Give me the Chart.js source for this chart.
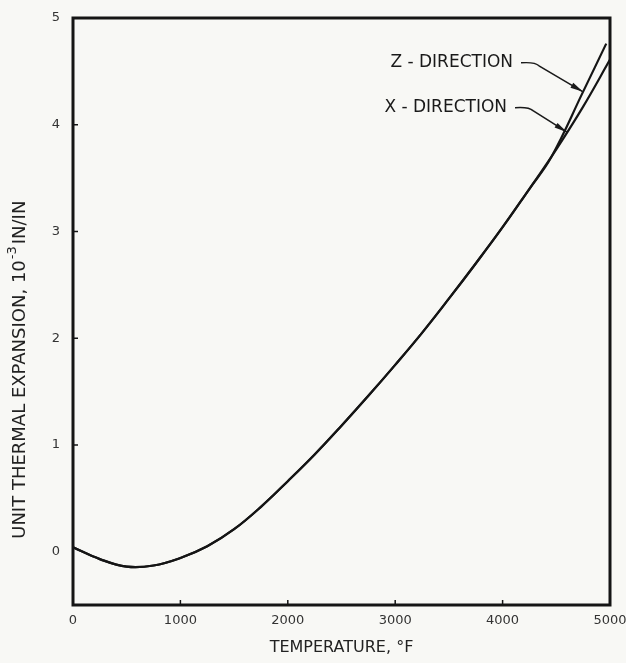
<!DOCTYPE html>
<html>
<head>
<meta charset="utf-8">
<script src="https://cdn.jsdelivr.net/npm/chart.js@4.4.1/dist/chart.umd.min.js"></script>
<style>
  html, body { margin: 0; padding: 0; background: #f8f8f5; }
  canvas { display: block; }
</style>
</head>
<body>
<canvas id="chart" width="626" height="663"></canvas>
<script>
// Unit thermal expansion (10^-3 in/in) versus temperature (°F)
const temperatures = [0, 250, 500, 750, 1000, 1250, 1500, 1750, 2000, 2250, 2500,
                      2750, 3000, 3250, 3500, 3750, 4000, 4250, 4500, 4750, 5000];
const xDirection   = [0.04, -0.07, -0.14, -0.13, -0.06, 0.05, 0.21, 0.42, 0.66, 0.91, 1.18,
                      1.46, 1.75, 2.05, 2.37, 2.70, 3.04, 3.40, 3.77, 4.17, 4.61];

const zTemperatures = [0, 250, 500, 750, 1000, 1250, 1500, 1750, 2000, 2250, 2500,
                       2750, 3000, 3250, 3500, 3750, 4000, 4250, 4450, 4750, 4965];
const zDirection    = [0.04, -0.07, -0.14, -0.13, -0.06, 0.05, 0.21, 0.42, 0.66, 0.91, 1.18,
                       1.46, 1.75, 2.05, 2.37, 2.70, 3.04, 3.40, 3.69, 4.31, 4.76];

const xTickValues = [0, 1000, 2000, 3000, 4000, 5000];
const yTickValues = [0, 1, 2, 3, 4, 5];

const xAxisTitle = 'TEMPERATURE, °F';
const yAxisTitle = { before: 'UNIT THERMAL EXPANSION, 10', sup: '-3', after: 'IN/IN' };

// Callout labels: right end of the text in data units, and the temperature where the arrow meets its curve
const callouts = [
  { text: 'Z - DIRECTION', series: 1, labelX: 4097, labelY: 4.58, tipX: 4749 },
  { text: 'X - DIRECTION', series: 0, labelX: 4041, labelY: 4.16, tipX: 4600 }
];

const FONT = "'DejaVu Sans', sans-serif";
const INK = '#151515';

function toPoints(xs, ys) { return xs.map((t, i) => ({ x: t, y: ys[i] })); }

function valueAt(points, t) {
  for (let i = 1; i < points.length; i++) {
    if (t <= points[i].x) {
      const a = points[i - 1], b = points[i];
      return a.y + (b.y - a.y) * (t - a.x) / (b.x - a.x);
    }
  }
  return points[points.length - 1].y;
}

const paperPlugin = {
  id: 'paper',
  beforeDraw(chart) {
    const { ctx, width, height } = chart;
    ctx.save();
    ctx.fillStyle = '#f8f8f5';
    ctx.fillRect(0, 0, width, height);
    ctx.restore();
  }
};

const framePlugin = {
  id: 'frame',
  afterDatasetsDraw(chart) {
    const { ctx, chartArea: a, scales: { x, y } } = chart;
    ctx.save();
    ctx.strokeStyle = INK;
    ctx.lineWidth = 3;
    ctx.strokeRect(a.left, a.top, a.right - a.left, a.bottom - a.top);

    // short inward tick marks
    ctx.lineWidth = 1.5;
    ctx.beginPath();
    xTickValues.slice(1, -1).forEach(v => {
      const px = x.getPixelForValue(v);
      ctx.moveTo(px, a.bottom); ctx.lineTo(px, a.bottom - 5);
    });
    yTickValues.slice(1, -1).forEach(v => {
      const py = y.getPixelForValue(v);
      ctx.moveTo(a.left, py); ctx.lineTo(a.left + 5, py);
    });
    ctx.stroke();

    // rotated y-axis title with superscript exponent
    const cy = a.top + 0.6 * (a.bottom - a.top);
    ctx.translate(20, cy);
    ctx.rotate(-Math.PI / 2);
    ctx.fillStyle = '#222';
    ctx.textBaseline = 'middle';
    const big = `18px ${FONT}`, small = `13px ${FONT}`;
    ctx.font = big;
    const w1 = ctx.measureText(yAxisTitle.before).width;
    const w3 = ctx.measureText(yAxisTitle.after).width;
    ctx.font = small;
    const w2 = ctx.measureText(yAxisTitle.sup).width + 2;
    let sx = -(w1 + w2 + w3) / 2;
    ctx.font = big;
    ctx.textAlign = 'left';
    ctx.fillText(yAxisTitle.before, sx, 0);
    sx += w1 + 1;
    ctx.font = small;
    ctx.fillText(yAxisTitle.sup, sx, -7);
    sx += w2;
    ctx.font = big;
    ctx.fillText(yAxisTitle.after, sx, 0);
    ctx.restore();

    // callout labels with arrows
    ctx.save();
    ctx.fillStyle = '#1a1a1a';
    ctx.strokeStyle = '#1a1a1a';
    ctx.font = `17px ${FONT}`;
    ctx.textAlign = 'right';
    ctx.textBaseline = 'middle';
    callouts.forEach(c => {
      const pts = chart.data.datasets[c.series].data;
      const lx = x.getPixelForValue(c.labelX), ly = y.getPixelForValue(c.labelY);
      const tx = x.getPixelForValue(c.tipX), ty = y.getPixelForValue(valueAt(pts, c.tipX));
      ctx.fillText(c.text, lx, ly);
      const sx0 = lx + 8, bx = lx + 20;
      ctx.lineWidth = 1.5;
      ctx.beginPath();
      ctx.moveTo(sx0, ly);
      ctx.quadraticCurveTo(bx + 2, ly - 1, bx + 6, ly + 3);
      ctx.lineTo(tx, ty);
      ctx.stroke();
      const ang = Math.atan2(ty - (ly + 3), tx - (bx + 6));
      const len = 13, half = 2.8;
      ctx.beginPath();
      ctx.moveTo(tx, ty);
      ctx.lineTo(tx - len * Math.cos(ang) + half * Math.sin(ang), ty - len * Math.sin(ang) - half * Math.cos(ang));
      ctx.lineTo(tx - len * Math.cos(ang) - half * Math.sin(ang), ty - len * Math.sin(ang) + half * Math.cos(ang));
      ctx.closePath();
      ctx.fill();
    });
    ctx.restore();
  }
};

const lineStyle = {
  showLine: true,
  borderColor: INK,
  borderWidth: 2.2,
  pointRadius: 0,
  tension: 0.4,
  fill: false
};

new Chart(document.getElementById('chart'), {
  type: 'scatter',
  data: {
    datasets: [
      { label: 'X - DIRECTION', data: toPoints(temperatures, xDirection), ...lineStyle },
      { label: 'Z - DIRECTION', data: toPoints(zTemperatures, zDirection), ...lineStyle }
    ]
  },
  options: {
    responsive: false,
    animation: false,
    devicePixelRatio: 1,
    layout: { padding: { top: 18, right: 16, left: 0, bottom: 0 } },
    plugins: { legend: { display: false }, tooltip: { enabled: false } },
    scales: {
      x: {
        type: 'linear',
        min: 0, max: 5000,
        afterBuildTicks: s => { s.ticks = xTickValues.map(v => ({ value: v })); },
        afterFit: s => { s.height = 58; s.paddingLeft = 0; s.paddingRight = 0; },
        grid: { display: false, drawTicks: false },
        border: { display: false },
        ticks: { color: '#333', padding: 8, maxRotation: 0, font: { family: FONT, size: 13 },
                 callback: v => String(v) },
        title: { display: true, text: xAxisTitle, color: '#222',
                 font: { family: FONT, size: 16 }, padding: { top: 0, bottom: 6 } }
      },
      y: {
        type: 'linear',
        min: -0.5, max: 5,
        afterBuildTicks: s => { s.ticks = yTickValues.map(v => ({ value: v })); },
        afterFit: s => { s.width = 73; s.paddingTop = 0; s.paddingBottom = 0; },
        grid: { display: false, drawTicks: false },
        border: { display: false },
        ticks: { color: '#333', padding: 13, font: { family: FONT, size: 13 },
                 callback: v => String(v) }
      }
    }
  },
  plugins: [paperPlugin, framePlugin]
});
</script>
</body>
</html>
